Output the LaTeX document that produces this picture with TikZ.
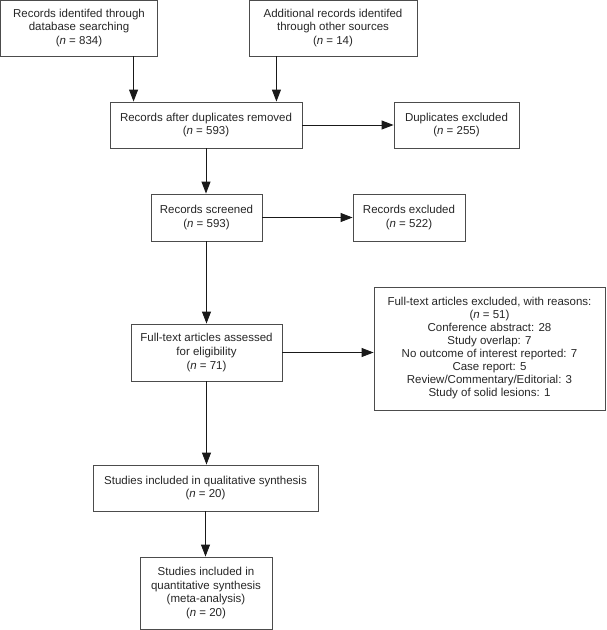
\documentclass[tikz,border=0pt]{standalone}
\usepackage{fontspec}
\setmainfont{Liberation Sans}
\usetikzlibrary{arrows.meta}

\begin{document}
\begin{tikzpicture}[x=1pt, y=-1pt, >={Triangle[length=12pt,width=9pt]}, line width=0.9pt,
    box/.style={draw=black!70, text=black!85, inner sep=0pt, align=center,
      font=\fontsize{11.5}{13.7}\selectfont},
    flow/.style={->, black!90}]
  \useasboundingbox (0,0) rectangle (606,630);
  \node[box, minimum width=157pt, minimum height=56pt] (ident) at (79,28)
    {Records identifed through\\database searching\\(\textit{n} = 834)};
  \node[box, minimum width=168pt, minimum height=56pt] (other) at (333,28)
    {Additional records identifed\\through other sources\\(\textit{n} = 14)};
  \node[box, minimum width=192pt, minimum height=46pt] (dedup) at (206,125)
    {Records after duplicates removed\\(\textit{n} = 593)};
  \node[box, minimum width=125pt, minimum height=46pt] (dupl) at (456.5,125)
    {Duplicates excluded\\(\textit{n} = 255)};
  \node[box, minimum width=111pt, minimum height=47pt] (screen) at (206.5,217.5)
    {Records screened\\(\textit{n} = 593)};
  \node[box, minimum width=112pt, minimum height=47pt] (recex) at (409,217.5)
    {Records excluded\\(\textit{n} = 522)};
  \node[box, minimum width=151pt, minimum height=57pt] (fulltext) at (206.5,352.5)
    {Full-text articles assessed\\for eligibility\\(\textit{n} = 71)};
  \node[box, minimum width=231pt, minimum height=123pt, font=\fontsize{11.5}{13}\selectfont]
    (fullex) at (489.5,348.5)
    {Full-text articles excluded, with reasons:\\(\textit{n} = 51)\\Conference abstract: 28\\
     Study overlap: 7\\No outcome of interest reported: 7\\Case report: 5\\
     Review/Commentary/Editorial: 3\\Study of solid lesions: 1};
  \node[box, minimum width=225pt, minimum height=46pt] (qual) at (205.5,488)
    {Studies included in qualitative synthesis\\(\textit{n} = 20)};
  \node[box, minimum width=132pt, minimum height=72pt] (quant) at (206,593)
    {Studies included in\\quantitative synthesis\\(meta-analysis)\\(\textit{n} = 20)};
  \draw[flow] ([xshift=24pt]dedup.north west |- ident.south) -- ([xshift=24pt]dedup.north west);
  \draw[flow] ([xshift=-26pt]dedup.north east |- other.south) -- ([xshift=-26pt]dedup.north east);
  \draw[flow] (dedup.east) -- (dedup.east -| dupl.west);
  \draw[flow] (dedup.south) -- (dedup.south |- screen.north);
  \draw[flow] (screen.east) -- (screen.east -| recex.west);
  \draw[flow] (screen.south) -- (screen.south |- fulltext.north);
  \draw[flow] (fulltext.east) -- (fulltext.east -| fullex.west);
  \draw[flow] (fulltext.south) -- (fulltext.south |- qual.north);
  \draw[flow] (qual.south) -- (qual.south |- quant.north);
\end{tikzpicture}
\end{document}
